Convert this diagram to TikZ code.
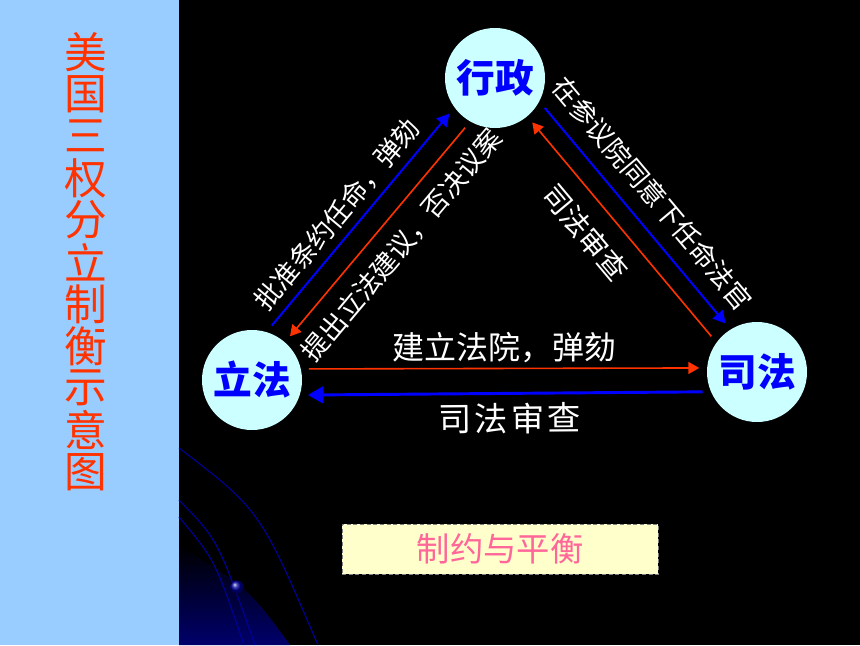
\documentclass[tikz,border=0pt]{standalone}
\usepackage{fontspec}
\setmainfont{Noto Sans CJK SC}
\newfontfamily\widefont[LetterSpace=9]{Noto Sans CJK SC}
\usetikzlibrary{arrows}
\definecolor{panelblue}{HTML}{99CCFF}
\definecolor{titlered}{HTML}{FF3300}
\definecolor{redline}{HTML}{FF3300}
\definecolor{blueline}{HTML}{0000FF}
\definecolor{nodecyan}{HTML}{CCFFFF}
\definecolor{notefill}{HTML}{FFFFCC}
\definecolor{notepink}{HTML}{FF6699}
\definecolor{decornavy}{HTML}{000099}
\newcommand{\diagfont}{\fontsize{20}{23}\selectfont}
\newcommand{\flatfont}{\fontsize{24}{27}\selectfont}
\newcommand{\checkfont}{\fontsize{21.5}{24}\selectfont}
\newcommand{\wideflat}{\widefont\fontsize{25}{28}\selectfont}

\begin{document}
\begin{tikzpicture}[x = 0.75pt, y = -0.75pt,
	branch/.style = {circle, fill = nodecyan, minimum size = 75pt, inner sep = 0pt, outer sep = 6pt, text = blueline, font = \fontsize{29}{32}\selectfont\bfseries},
	title/.style = {text = titlered, font = \fontsize{32}{34}\selectfont, inner sep = 0pt},
	note/.style = {fill = notefill, draw = gray, densely dashed, minimum width = 237pt, minimum height = 37.5pt, text = notepink, font = \fontsize{25}{27}\selectfont},
	arrowline/.style = {-triangle 60},
	lbl/.style = {text = white, sloped, inner sep = 0pt}]

	% background
	\fill[panelblue] (0,0) rectangle (179,645);
	\fill[black] (179,0) rectangle (860,645);
	\shade[top color = black, bottom color = decornavy!70!black] (179,545) -- (179,645) -- (290,645) .. controls (250,590) .. (179,545) -- cycle;
	\draw[decornavy, line width = 0.8pt] (179,448) .. controls (260,510) .. (318,645);
	\draw[decornavy, line width = 0.8pt] (179,500) .. controls (218,540) .. (255,645);
	\draw[decornavy, line width = 0.8pt] (179,517) .. controls (215,560) .. (244,645);
	\shade[ball color = decornavy] (237,587) circle (5pt);

	\foreach \ch [count = \i] in {美,国,三,权,分,立,制,衡,示,意,图}
		\node (t\i) at (86, 10+42*\i) [title] {\ch};

	\node (XZ) at (495, 78) [branch] {行政};
	\node (LF) at (252,380) [branch] {立法};
	\node (SF) at (757,372) [branch] {司法};
	\node (CB) at (500,549) [note] {制约与平衡};

	\foreach \from/\to/\col/\lw/\p/\gap/\lbl in {LF.70/XZ.218/blueline/1.5/0.46/5.5/{\diagfont 批准条约任命，弹劾},
	XZ.329/SF.123/blueline/1.5/0.48/10.5/{\diagfont 在参议院同意下任命法官}, LF.11/SF.176/redline/1.2/0.5/3.5/{\flatfont 建立法院，弹劾}}
		\path (\from) edge [arrowline, draw = \col, line width = \lw pt] node[lbl, pos = \p, above = \gap pt] {\lbl} (\to);
	\foreach \from/\to/\col/\lw/\p/\gap/\lbl in {XZ.239/LF.49/redline/1.2/0.48/10/{\diagfont 提出立法建议，否决议案},
	SF.142/XZ.310/redline/1.2/0.575/12/{\checkfont 司法审查}, SF.200/LF.345/blueline/2.2/0.49/6/{\wideflat 司法审查}}
		\path (\from) edge [arrowline, draw = \col, line width = \lw pt] node[lbl, pos = \p, below = \gap pt] {\lbl} (\to);

\end{tikzpicture}
\end{document}
